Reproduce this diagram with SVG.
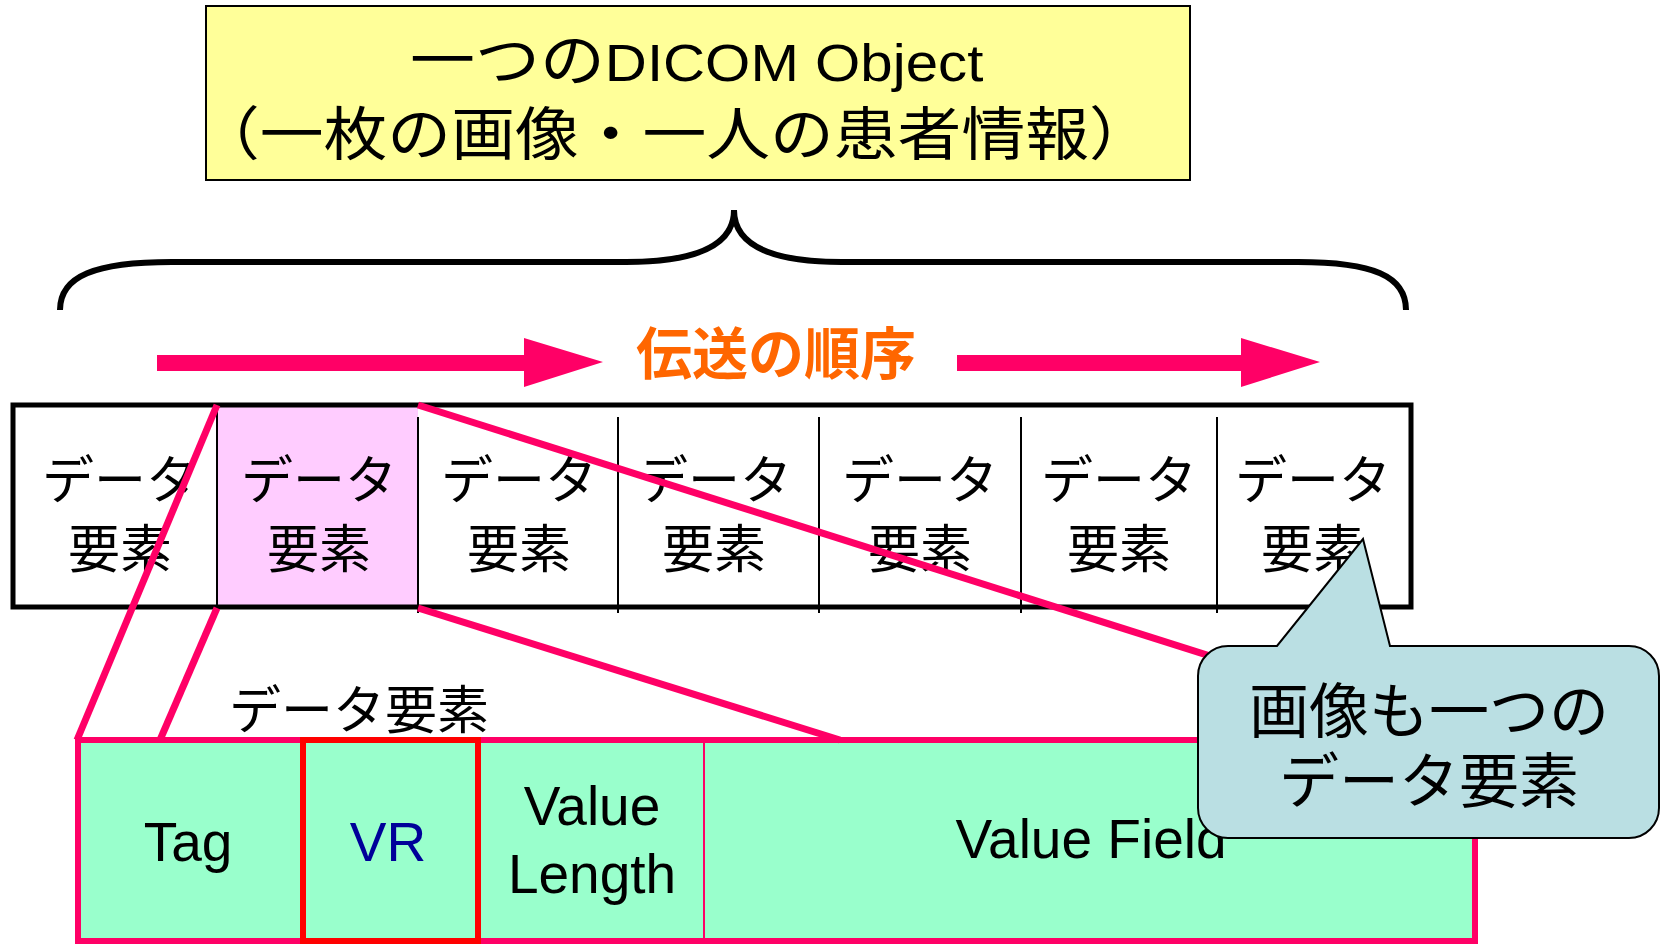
<svg xmlns="http://www.w3.org/2000/svg" width="1662" height="944" viewBox="0 0 1662 944">
<style>
  text { font-family: "Liberation Sans", "Noto Sans CJK JP", sans-serif; fill: #000; }
  .cell { font-size: 52px; text-anchor: middle; }
  .fld { font-size: 55px; text-anchor: middle; }
  .conn { stroke: #FF0066; stroke-width: 7; fill: none; }
  .div { stroke: #000; stroke-width: 2; }
</style>
<rect width="1662" height="944" fill="#fff"/>

<g id="title">
  <rect x="206" y="6" width="984" height="174" fill="#FFFF99" stroke="#000" stroke-width="2"/>
  <text transform="translate(410,81) scale(1.12,1)" font-size="58">一つの<tspan font-size="52">DICOM Object</tspan></text>
  <text transform="translate(196,155) scale(1.1,1)" font-size="58">（一枚の画像・一人の患者情報）</text>
</g>

<g id="brace">
  <path d="M60,310 C60,276 95,262 172,262 L626,262 C700,262 734,244 734,210 C734,244 768,262 842,262 L1298,262 C1373,262 1406,276 1406,310" fill="none" stroke="#000" stroke-width="6"/>
</g>

<g id="order">
  <polygon points="157,355 524,355 524,338 603,362 524,387 524,371 157,371" fill="#FF0066"/>
  <polygon points="957,355 1241,355 1241,338 1320,362 1241,387 1241,371 957,371" fill="#FF0066"/>
  <text x="776" y="374" font-size="56" font-weight="bold" text-anchor="middle" style="fill:#FF6600">伝送の順序</text>
</g>

<g id="row">
  <rect x="217" y="407" width="201" height="198" fill="#FFCCFF"/>
  <rect x="13" y="405" width="1398" height="202" fill="none" stroke="#000" stroke-width="5"/>
  <line class="div" x1="217" y1="405" x2="217" y2="607"/>
  <line class="div" x1="418" y1="417" x2="418" y2="613"/>
  <line class="div" x1="618" y1="417" x2="618" y2="613"/>
  <line class="div" x1="819" y1="417" x2="819" y2="613"/>
  <line class="div" x1="1021" y1="417" x2="1021" y2="613"/>
  <line class="div" x1="1217" y1="417" x2="1217" y2="613"/>
  <text class="cell" x="120" y="499">データ<tspan x="120" y="568">要素</tspan></text>
  <text class="cell" x="319" y="499">データ<tspan x="319" y="568">要素</tspan></text>
  <text class="cell" x="519" y="499">データ<tspan x="519" y="568">要素</tspan></text>
  <text class="cell" x="714" y="499">データ<tspan x="714" y="568">要素</tspan></text>
  <text class="cell" x="920" y="499">データ<tspan x="920" y="568">要素</tspan></text>
  <text class="cell" x="1119" y="499">データ<tspan x="1119" y="568">要素</tspan></text>
  <text class="cell" x="1313" y="499">データ<tspan x="1313" y="568">要素</tspan></text>
</g>

<g id="element">
  <rect x="78" y="740" width="1397" height="201" fill="#99FFCC" stroke="#FF0066" stroke-width="6"/>
  <line x1="704" y1="740" x2="704" y2="941" stroke="#FF0066" stroke-width="2"/>
  <rect x="303" y="740" width="175" height="201" fill="none" stroke="#FF0000" stroke-width="6"/>
  <text class="fld" x="188" y="861">Tag</text>
  <text class="fld" x="388" y="861" style="fill:#000099">VR</text>
  <text class="fld" x="592" y="825">Value<tspan x="592" y="893">Length</tspan></text>
  <text class="fld" x="1091" y="858">Value Field</text>
  <text x="359" y="729" font-size="52" text-anchor="middle">データ要素</text>
</g>

<g id="connectors">
  <line class="conn" x1="217" y1="405" x2="77" y2="740"/>
  <line class="conn" x1="217" y1="608" x2="160" y2="740"/>
  <line class="conn" x1="418" y1="405" x2="1475" y2="740"/>
  <line class="conn" x1="418" y1="608" x2="840" y2="740"/>
</g>

<g id="callout">
  <path d="M1228,646 L1277,646 L1363,539 L1390,646 L1629,646 A30,30 0 0 1 1659,676 L1659,808 A30,30 0 0 1 1629,838 L1228,838 A30,30 0 0 1 1198,808 L1198,676 A30,30 0 0 1 1228,646 Z" fill="#BADFE3" stroke="#000" stroke-width="2"/>
  <text x="1429" y="733" font-size="60" text-anchor="middle">画像も一つの<tspan x="1429" y="803">データ要素</tspan></text>
</g>
</svg>
